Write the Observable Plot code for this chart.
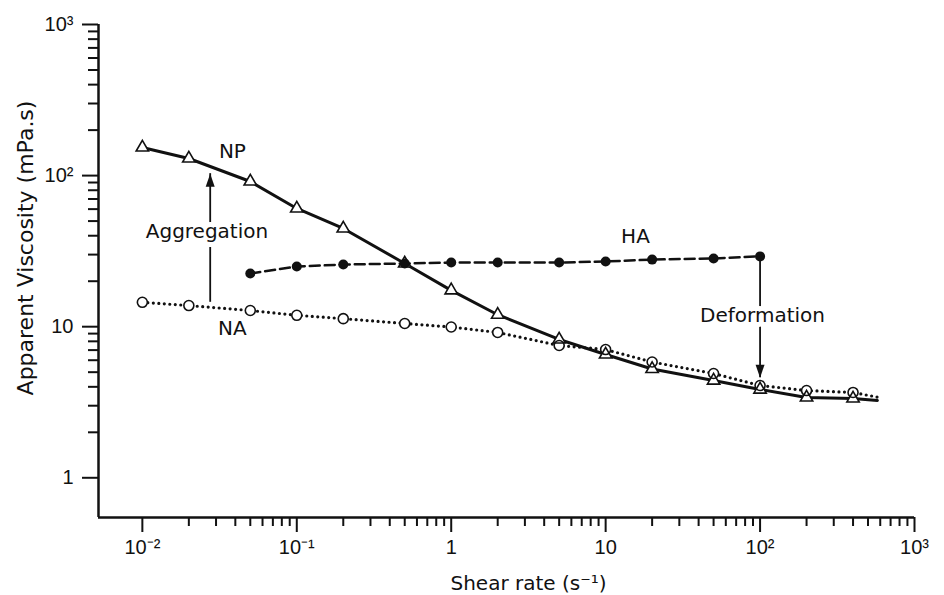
<!DOCTYPE html>
<html>
<head>
<meta charset="utf-8">
<script src="https://cdn.jsdelivr.net/npm/d3@7"></script>
<script src="https://cdn.jsdelivr.net/npm/@observablehq/plot@0.6"></script>
<style>
  html, body { margin: 0; padding: 0; background: #ffffff; }
  #chart svg { display: block; }
</style>
</head>
<body>
<div id="chart"></div>
<script>
// ---- data ----
const shearRates   = [0.01, 0.02, 0.05, 0.1, 0.2, 0.5, 1, 2, 5, 10, 20, 50, 100, 200, 400];
const npViscosity  = [153.5, 129.8, 91.4, 60.6, 44.7, 26.2, 17.4, 12.0, 8.23, 6.55, 5.25, 4.40, 3.84, 3.40, 3.35];
const naViscosity  = [14.5, 13.8, 12.8, 11.9, 11.3, 10.5, 9.95, 9.16, 7.51, 7.06, 5.84, 4.90, 4.08, 3.78, 3.67];
const haShearRates = [0.05, 0.1, 0.2, 0.5, 1, 2, 5, 10, 20, 50, 100];
const haViscosity  = [22.5, 25.0, 25.8, 26.2, 26.6, 26.6, 26.6, 27.0, 27.8, 28.3, 29.2];
// curves continue past the last marker without a symbol
const tailRate = 575;
const npTailViscosity = 3.25;
const naTailViscosity = 3.42;

const xMajorTicks  = [0.01, 0.1, 1, 10, 100, 1000];
const xTickLabels  = ["10\u207B\u00B2", "10\u207B\u00B9", "1", "10", "10\u00B2", "10\u00B3"];
const yMajorTicks  = [1, 10, 100, 1000];
const yTickLabels  = ["1", "10", "10\u00B2", "10\u00B3"];
const minorMultiples = [2, 3, 4, 5, 6, 7, 8, 9];

const seriesLabels   = ["NP", "HA", "NA"];
const seriesLabelX   = [0.0383, 15.6, 0.0383];
const seriesLabelY   = [144, 39.5, 9.73];
const arrowLabels    = ["Aggregation", "Deformation"];
const arrowLabelX    = [0.0262, 103.7];
const arrowLabelY    = [42.7, 11.9];
const arrowX         = [0.0275, 100];
const arrowFrom      = [14.5, 29.2];
const arrowTo        = [103, 4.6];
const arrowDirection = ["up", "down"];

const xTitle = "Shear rate (s\u207B\u00B9)";
const yTitle = "Apparent Viscosity (mPa.s)";

// ---- tables built from the arrays ----
const np = shearRates.map((x, i) => ({x, y: npViscosity[i]}));
const na = shearRates.map((x, i) => ({x, y: naViscosity[i]}));
const ha = haShearRates.map((x, i) => ({x, y: haViscosity[i]}));
const npLine = [...np, {x: tailRate, y: npTailViscosity}];
const naLine = [...na, {x: tailRate, y: naTailViscosity}];
const seriesText = seriesLabels.map((t, i) => ({t, x: seriesLabelX[i], y: seriesLabelY[i]}));
const arrowText = arrowLabels.map((t, i) => ({t, x: arrowLabelX[i], y: arrowLabelY[i]}));
const arrows = arrowX.map((x, i) => ({x, y1: arrowFrom[i], y2: arrowTo[i], dir: arrowDirection[i]}));

const minorX = [];
for (const d of xMajorTicks.slice(0, -1)) for (const m of minorMultiples) minorX.push(d * m);
const minorY = [];
for (const d of yMajorTicks.slice(0, -1)) for (const m of minorMultiples) minorY.push(d * m);

const ink = "#111111";
const arrowHead = {
  draw(context) {
    context.moveTo(0, 0);
    context.lineTo(-4.5, 13);
    context.lineTo(4.5, 13);
    context.closePath();
  }
};

const chart = Plot.plot({
  width: 944,
  height: 595,
  marginLeft: 98,
  marginRight: 30,
  marginTop: 24,
  marginBottom: 78,
  style: {background: "#ffffff", color: ink, fontFamily: "'Liberation Sans', Arial, sans-serif", fontSize: "20px"},
  x: {type: "log", domain: [0.0052, 1000], label: null},
  y: {type: "log", domain: [0.546, 1000], label: null},
  marks: [
    // axes
    Plot.axisX(xMajorTicks, {anchor: "bottom", tickSize: 15, tickPadding: 7, strokeWidth: 2,
      tickFormat: d => xTickLabels[xMajorTicks.indexOf(d)], label: null, fontSize: 20,
      fontFamily: "'Liberation Sans', Arial, sans-serif"}),
    Plot.axisX(minorX, {anchor: "bottom", tickSize: 9, strokeWidth: 2, tickFormat: () => "", label: null}),
    Plot.axisY(yMajorTicks, {anchor: "left", tickSize: 16, tickPadding: 9, strokeWidth: 2,
      tickFormat: d => yTickLabels[yMajorTicks.indexOf(d)], label: null, fontSize: 20,
      fontFamily: "'Liberation Sans', Arial, sans-serif"}),
    Plot.axisY(minorY, {anchor: "left", tickSize: 10, strokeWidth: 2, tickFormat: () => "", label: null}),
    Plot.ruleX([0.0052], {stroke: ink, strokeWidth: 2.5}),
    Plot.ruleY([0.546], {stroke: ink, strokeWidth: 2.5}),

    // curves
    Plot.line(naLine, {x: "x", y: "y", stroke: ink, strokeWidth: 3.2, strokeDasharray: "0,5.5", strokeLinecap: "round"}),
    Plot.line(npLine, {x: "x", y: "y", stroke: ink, strokeWidth: 3}),
    Plot.line(ha, {x: "x", y: "y", stroke: ink, strokeWidth: 2.5, strokeDasharray: "10,5"}),

    // annotation arrows
    Plot.ruleX(arrows, {x: "x", y1: "y1", y2: "y2", stroke: ink, strokeWidth: 1.8}),
    Plot.dot(arrows, {x: "x", y: "y2", symbol: arrowHead, fill: ink, stroke: null,
      rotate: d => d.dir === "up" ? 0 : 180}),

    // marker fills (mask the lines)
    Plot.dot(np, {x: "x", y: "y", symbol: "triangle", r: 4.6, fill: "white", stroke: null}),
    Plot.dot(na, {x: "x", y: "y", symbol: "circle", r: 5, fill: "white", stroke: null}),
    // marker outlines
    Plot.dot(np, {x: "x", y: "y", symbol: "triangle", r: 4.6, fill: "none", stroke: ink, strokeWidth: 1.6}),
    Plot.dot(na, {x: "x", y: "y", symbol: "circle", r: 5, fill: "none", stroke: ink, strokeWidth: 1.6}),
    Plot.dot(ha, {x: "x", y: "y", symbol: "circle", r: 5, fill: ink, stroke: null}),

    // labels
    Plot.text(seriesText, {x: "x", y: "y", text: "t", fontFamily: "'DejaVu Sans', sans-serif", fontSize: 20, fill: ink}),
    Plot.text(arrowText, {x: "x", y: "y", text: "t", fontFamily: "'DejaVu Sans', sans-serif", fontSize: 20, fill: ink,
      stroke: "white", strokeWidth: 10, paintOrder: "stroke"}),

    // axis titles
    Plot.text([xTitle], {frameAnchor: "bottom", dx: 22, dy: 72, lineAnchor: "bottom", textAnchor: "middle",
      fontFamily: "'DejaVu Sans', sans-serif", fontSize: 20, fill: ink}),
    Plot.text([yTitle], {frameAnchor: "left", dx: -66, dy: -23, rotate: -90, lineAnchor: "bottom", textAnchor: "middle",
      fontFamily: "'DejaVu Sans', sans-serif", fontSize: 22, fill: ink})
  ]
});
document.getElementById("chart").append(chart);
</script>
</body>
</html>
